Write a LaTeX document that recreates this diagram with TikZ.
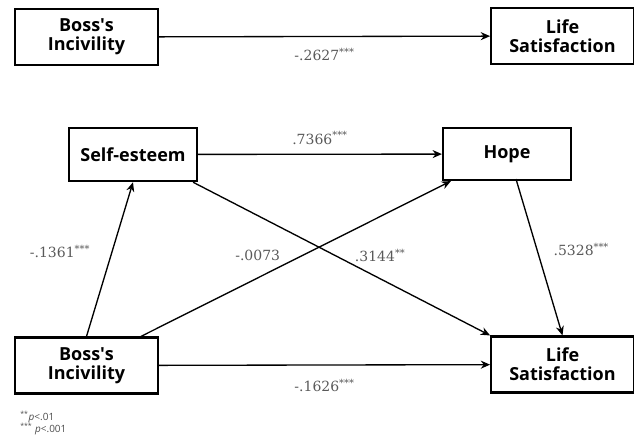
\documentclass[tikz,border=0pt]{standalone}
\usepackage{fontspec}
\setmainfont{DejaVu Serif}
\setsansfont{Open Sans}
\usetikzlibrary{arrows.meta,calc}

\tikzset{
  var/.style={draw, line width=1.6pt, minimum width=107pt, minimum height=42pt,
    align=center, font=\sffamily\bfseries\fontsize{13.5}{14}\selectfont, inner sep=1pt},
  path/.style={line width=1pt, -{Stealth[length=7pt,width=6pt]}},
  coef/.style={font=\fontsize{10.5}{12}\selectfont, text=black!65, inner sep=2pt}
}
\newcommand{\sig}[1]{\textsuperscript{#1}}

\begin{document}
\begin{tikzpicture}[x=0.75pt, y=-0.75pt]
    \useasboundingbox (0,0) rectangle (634,445);

    % Nodes
    \node[var] (BItop) at (86.5,37) {Boss\textquotesingle s\\Incivility};
    \node[var] (LStop) at (562.5,36) {Life\\Satisfaction};
    \node[var, minimum width=96pt, minimum height=40pt] (SE) at (133,154.5) {Self-esteem};
    \node[var, minimum width=96pt, minimum height=39pt] (HO) at (507,154) {Hope};
    \node[var] (BI) at (86.5,365.5) {Boss\textquotesingle s\\Incivility};
    \node[var] (LS) at (562.5,364.5) {Life\\Satisfaction};

    % Edges with weights
    \draw[path] (BItop) -- (LStop) node[coef, midway, below=6pt] {-.2627\sig{***}};
    \draw[path] (SE) -- (HO) node[coef, midway, above=5pt] {.7366\sig{***}};
    \draw[path] (BI) -- (LS) node[coef, midway, below=8pt] {-.1626\sig{***}};
    \draw[path] (BI.north) -- (SE.south) node[coef, pos=0.55, left=14pt] {-.1361\sig{***}};
    \draw[path] ($(BI.north east)+(-18,0)$) -- ($(HO.south west)+(9,0)$)
        node[coef, pos=0.52, left=14pt] {-.0073};
    \draw[path] ($(SE.south east)+(-5,0)$) -- (LS.north west)
        node[coef, pos=0.63, above=10pt] {.3144\sig{**}};
    \draw[path] ($(HO.south)+(9,-2)$) -- (LS.north)
        node[coef, pos=0.45, right=10pt] {.5328\sig{***}};

    % Note
    \node[font=\sffamily\fontsize{7.5}{9}\selectfont, text=black!70, align=left, anchor=north west, inner sep=0pt]
        (note) at (20,411) {\sig{**}\textit{p}<.01\\\sig{***} \textit{p}<.001};
\end{tikzpicture}
\end{document}
